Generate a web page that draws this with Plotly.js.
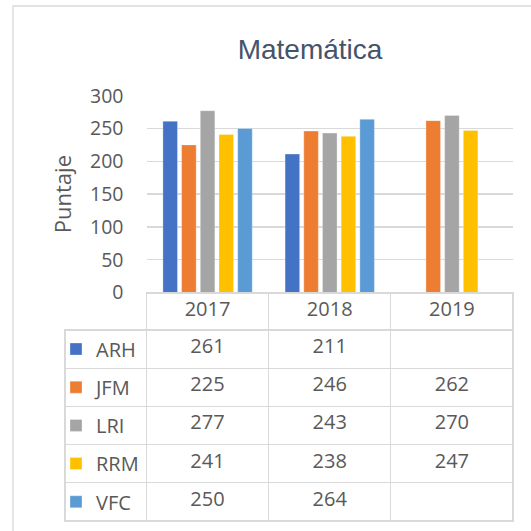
<!DOCTYPE html>
<html>
<head>
<meta charset="utf-8">
<script src="https://cdn.plot.ly/plotly-3.0.1.min.js"></script>
<style>html,body{margin:0;padding:0;background:#fff;}#chart{width:531px;height:531px;}</style>
</head>
<body>
<div id="chart"></div>
<script>
const years = ['2017', '2018', '2019'];
const seriesNames = ['ARH', 'JFM', 'LRI', 'RRM', 'VFC'];
const ARH = [261, 211, null];
const JFM = [225, 246, 262];
const LRI = [277, 243, 270];
const RRM = [241, 238, 247];
const VFC = [250, 264, null];
const seriesValues = [ARH, JFM, LRI, RRM, VFC];
const colors = ['#4472C4', '#ED7D31', '#A5A5A5', '#FFC000', '#5B9BD5'];
const yTicks = [0, 50, 100, 150, 200, 250, 300];

const W = 531, H = 531;
const px = v => v / W;
const py = v => 1 - v / H;

const traces = seriesNames.map((name, i) => ({
  type: 'bar',
  name: name,
  legendgroup: name,
  x: years,
  y: seriesValues[i],
  marker: {color: colors[i], line: {color: 'rgba(255,255,255,0.6)', width: 0.5}},
  showlegend: true,
  hoverinfo: 'skip'
}));

// Data table (Excel-style) under the plot; the legend supplies the keys of its first column
const yearCols = years.map((y, j) =>
  seriesValues.map(s => (s[j] === null ? '' : String(s[j]))));

traces.push({
  type: 'table',
  domain: {x: [px(65), px(513.5)], y: [0, py(293)]},
  columnwidth: [81.5, 122.3, 122.3, 122.3],
  header: {
    values: [''].concat(years),
    height: 37,
    align: 'center',
    fill: {color: ['rgba(0,0,0,0)', 'white', 'white', 'white']},
    line: {color: ['rgba(0,0,0,0)', '#D9D9D9', '#D9D9D9', '#D9D9D9'], width: 1.3},
    font: {family: 'Open Sans, sans-serif', size: 20, color: '#595959'}
  },
  cells: {
    values: [seriesNames.map(() => '')].concat(yearCols),
    height: 38.2,
    align: ['left', 'center', 'center', 'center'],
    fill: {color: 'white'},
    line: {color: '#D9D9D9', width: 1.3},
    font: {family: 'Open Sans, sans-serif', size: 20, color: '#595959'}
  },
  hoverinfo: 'skip'
});

const layout = {
  width: W, height: H,
  margin: {l: 0, r: 0, t: 0, b: 0},
  paper_bgcolor: 'white',
  plot_bgcolor: 'white',
  font: {family: 'Open Sans, sans-serif', color: '#595959'},
  title: {
    text: 'Matemática',
    font: {family: 'Liberation Sans, Arial, sans-serif', size: 28, color: '#44546A'},
    x: px(310), xanchor: 'center',
    y: py(49), yanchor: 'middle', yref: 'container'
  },
  showlegend: true,
  legend: {
    orientation: 'v',
    traceorder: 'grouped',
    tracegroupgap: 9.2,
    x: px(56), xanchor: 'left',
    y: py(329.5), yanchor: 'top',
    bgcolor: 'rgba(0,0,0,0)',
    borderwidth: 0,
    font: {family: 'Open Sans, sans-serif', size: 20, color: '#595959'}
  },
  barmode: 'group',
  bargap: 0.235,
  bargroupgap: 0.22,
  xaxis: {
    domain: [px(146.5), px(513)],
    type: 'category',
    showticklabels: false,
    showgrid: false,
    zeroline: false,
    showline: false,
    ticks: ''
  },
  yaxis: {
    domain: [py(292.5), py(95.7)],
    range: [0, 300],
    tickvals: yTicks,
    ticktext: yTicks.map(String),
    tickfont: {family: 'Open Sans, sans-serif', size: 19.5, color: '#595959'},
    ticks: '',
    ticklabelstandoff: 22,
    showgrid: true,
    gridcolor: '#D9D9D9',
    gridwidth: 1.3,
    zeroline: false,
    showline: false,
    title: {text: 'Puntaje', standoff: 12, font: {family: 'Open Sans, sans-serif', size: 22, color: '#595959'}}
  },
  shapes: [
    {type: 'rect', xref: 'paper', yref: 'paper', x0: px(13), x1: px(540), y0: py(540), y1: py(6),
     line: {color: '#D9D9D9', width: 1.3}, fillcolor: 'rgba(0,0,0,0)', layer: 'below'}
  ]
};

Plotly.newPlot('chart', traces, layout, {displayModeBar: false, staticPlot: true});
</script>
</body>
</html>
